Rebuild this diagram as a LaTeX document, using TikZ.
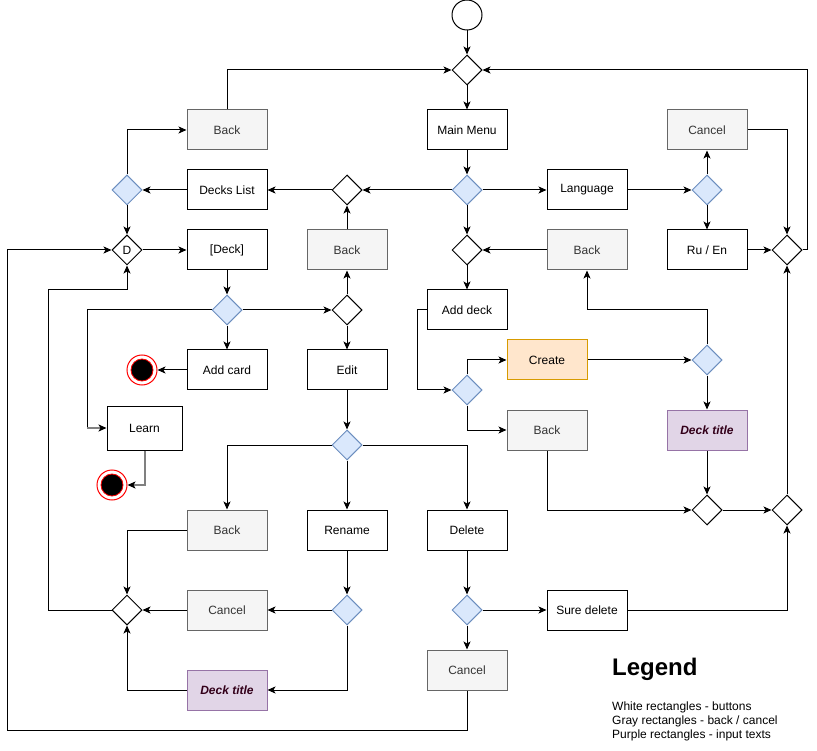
\documentclass[tikz,border=0pt]{standalone}
\usepackage{fontspec}
\setmainfont{Liberation Sans}
\usetikzlibrary{shapes.geometric,arrows.meta}
\definecolor{bluef}{HTML}{DAE8FC}
\definecolor{blued}{HTML}{6C8EBF}
\definecolor{grayf}{HTML}{F5F5F5}
\definecolor{grayd}{HTML}{666666}
\definecolor{grayt}{HTML}{333333}
\definecolor{purf}{HTML}{E1D5E7}
\definecolor{purd}{HTML}{9673A6}
\definecolor{purt}{HTML}{33001A}
\definecolor{oraf}{HTML}{FFE6CC}
\definecolor{orad}{HTML}{D79B00}
\definecolor{lnk}{HTML}{808080}
\begin{document}
\begin{tikzpicture}[x=1pt,y=-1pt,
  font=\fontsize{12}{14}\selectfont,
  box/.style={draw, line width=1pt, minimum width=80pt, minimum height=40pt, inner sep=0pt, fill=white},
  graybox/.style={box, draw=grayd, fill=grayf, text=grayt},
  purbox/.style={box, draw=purd, fill=purf, text=purt, font=\fontsize{12}{14}\selectfont\bfseries\itshape},
  orabox/.style={box, draw=orad, fill=oraf},
  dia/.style={diamond, aspect=1, draw, line width=1pt, minimum width=30pt, minimum height=30pt, inner sep=0pt, fill=white},
  bdia/.style={dia, draw=blued, fill=bluef},
  arr/.style={-{Stealth[length=8pt,width=7pt,inset=2pt]}, line width=1pt},
  garr/.style={-{Stealth[length=8pt,width=7pt,inset=2pt,color=black]}, line width=2pt, draw=lnk},
  endo/.style={circle, draw=red, line width=1pt, minimum size=30pt, inner sep=0pt, fill=white},
  endi/.style={circle, draw=red, line width=0.8pt, minimum size=22pt, inner sep=0pt, fill=black},
  legtext/.style={anchor=west, inner sep=0pt, font=\fontsize{12}{14}\selectfont}
]
\useasboundingbox (0,0) rectangle (817,751);

% start
\node[circle, draw, line width=1pt, minimum size=30pt, inner sep=0pt] (start) at (467,15) {};
\node[dia] (dtop) at (467,70) {};
\node[box] (mm) at (467,130) {Main Menu};
\node[bdia] (dmm) at (467,190) {};
\node[dia] (dlist) at (347,190) {};
\node[box] (decks) at (227,190) {Decks List};
\node[bdia] (bdl) at (127,190) {};
\node[graybox] (back1) at (227,130) {Back};
\node[dia] (D) at (127,250) {D};
\node[box] (deck) at (227,250) {[Deck]};
\node[graybox] (back2) at (347,250) {Back};
\node[bdia] (bdeck) at (227,310) {};
\node[dia] (dedit) at (347,310) {};
\node[box] (addcard) at (227,370) {Add card};
\node[endo] (end1) at (142,370) {};
\node[endi] (end1i) at (142,370) {};
\node[box, minimum width=75pt, minimum height=44pt] (learn) at (144.5,428) {Learn};
\node[endo] (end2) at (112,485) {};
\node[endi] (end2i) at (112,485) {};
\node[box] (edit) at (347,370) {Edit};
\node[bdia] (bedit) at (347,445) {};
\node[graybox] (back3) at (227,530) {Back};
\node[box] (rename) at (347,530) {Rename};
\node[box] (delete) at (467,530) {Delete};
\node[dia] (d3) at (127,610) {};
\node[graybox] (cancel3) at (227,610) {Cancel};
\node[bdia] (bren) at (347,610) {};
\node[purbox] (title2) at (227,690) {Deck title};
\node[bdia] (bdel) at (467,610) {};
\node[box] (sure) at (587,610) {Sure delete};
\node[graybox] (cancel4) at (467,670) {Cancel};
\node[box] (lang) at (587,190) {Language};
\node[bdia] (blang) at (707,190) {};
\node[graybox] (cancel1) at (707,130) {Cancel};
\node[box] (ruen) at (707,250) {Ru / En};
\node[dia] (d5) at (787,250) {};
\node[dia] (dadd) at (467,250) {};
\node[graybox] (back4) at (587,250) {Back};
\node[box] (adddeck) at (467,310) {Add deck};
\node[bdia] (bcreate) at (467,390) {};
\node[orabox] (create) at (547,360) {Create};
\node[graybox] (back5) at (547,430) {Back};
\node[bdia] (bct) at (707,360) {};
\node[purbox] (title1) at (707,430) {Deck title};
\node[dia] (d7) at (707,510) {};
\node[dia] (d6) at (787,510) {};

% legend
\node[anchor=west, inner sep=0pt, font=\fontsize{24}{28}\selectfont\bfseries] (leg) at (612,669) {Legend};
\node[legtext] (leg1) at (612,707) {White rectangles - buttons};
\node[legtext] (leg2) at (612,721) {Gray rectangles - back / cancel};
\node[legtext] (leg3) at (612,735) {Purple rectangles - input texts};

% connectors
\draw[arr] (start) -- (dtop);
\draw[arr] (dtop) -- (mm);
\draw[arr] (mm) -- (dmm);
\draw[arr] (dmm) -- (dlist);
\draw[arr] (dlist) -- (decks);
\draw[arr] (decks) -- (bdl);
\draw[arr] (bdl) |- (back1);
\draw[arr] (back1) |- (dtop);
\draw[arr] (bdl) -- (D);
\draw[arr] (D) -- (deck);
\draw[arr] (deck) -- (bdeck);
\draw[arr] (bdeck) -- (dedit);
\draw[arr] (bdeck) -- (addcard);
\draw[arr] (addcard) -- (end1);
\coordinate (lbend) at (87,428);
\draw[line width=1pt] (bdeck.west) -- (87,310) -- (lbend);
\draw[garr] (lbend) -- (learn.west);
\draw[garr] (learn.south) |- (end2);
\draw[arr] (dedit) -- (edit);
\draw[arr] (dedit) -- (back2);
\draw[arr] (back2) -- (dlist);
\draw[arr] (edit) -- (bedit);
\draw[arr] (bedit) -| (back3);
\draw[arr] (bedit) -- (rename);
\draw[arr] (bedit) -| (delete);
\draw[arr] (back3) -| (d3);
\draw[arr] (rename) -- (bren);
\draw[arr] (bren) -- (cancel3);
\draw[arr] (cancel3) -- (d3);
\draw[arr] (bren) |- (title2);
\draw[arr] (title2) -| (d3);
\draw[arr] (d3.west) -- (48,610) -- (48,290) -| (D.south);
\draw[arr] (delete) -- (bdel);
\draw[arr] (bdel) -- (sure);
\draw[arr] (bdel) -- (cancel4);
\draw[arr] (cancel4.south) -- (467,730) -- (7,730) -- (7,250) -- (D.west);
\draw[arr] (sure) -| (d6);
\draw[arr] (dmm) -- (lang);
\draw[arr] (lang) -- (blang);
\draw[arr] (blang) -- (cancel1);
\draw[arr] (blang) -- (ruen);
\draw[arr] (cancel1) -| (d5);
\draw[arr] (ruen) -- (d5);
\draw[arr] (d5.east) -- (807,250) |- (dtop.east);
\draw[arr] (dmm) -- (dadd);
\draw[arr] (back4) -- (dadd);
\draw[arr] (dadd) -- (adddeck);
\draw[arr] (adddeck.west) -- (417,310) |- (bcreate.west);
\draw[arr] (bcreate.north) |- (create);
\draw[arr] (bcreate.south) |- (back5);
\draw[arr] (create) -- (bct);
\draw[arr] (bct.north) -- (707,310) -| (back4.south);
\draw[arr] (bct) -- (title1);
\draw[arr] (title1) -- (d7);
\draw[arr] (back5) |- (d7);
\draw[arr] (d7) -- (d6);
\draw[arr] (d6) -- (d5);
\end{tikzpicture}
\end{document}
